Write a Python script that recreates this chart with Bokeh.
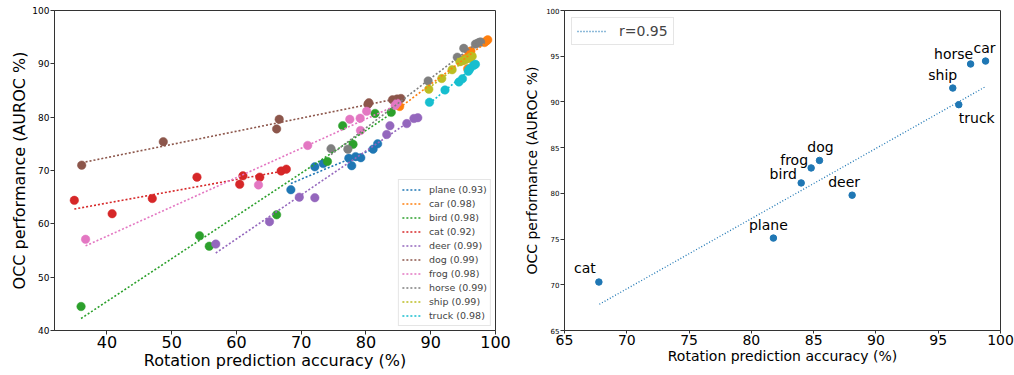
import numpy as np
from bokeh.plotting import figure
from bokeh.layouts import row
from bokeh.models import Range1d, FixedTicker, Legend, LegendItem, ColumnDataSource
from bokeh.embed import file_html
from bokeh.resources import INLINE

FONT = "DejaVu Sans"

# ---------------- data: left panel (per-class models) ----------------
classes = ["plane", "car", "bird", "cat", "deer", "dog", "frog", "horse", "ship", "truck"]
corr_labels = ["0.93", "0.98", "0.98", "0.92", "0.99", "0.99", "0.98", "0.99", "0.99", "0.98"]
colors = ["#1f77b4", "#ff7f0e", "#2ca02c", "#d62728", "#9467bd",
          "#8c564b", "#e377c2", "#7f7f7f", "#bcbd22", "#17becf"]

plane_rot = [68.4, 72.1, 73.4, 77.35, 77.8, 78.4, 79.2, 81.1, 81.8]
plane_occ = [66.4, 70.7, 71.3, 72.3, 70.9, 72.6, 72.4, 74.0, 75.0]
car_rot = [85.2, 94.6, 95.3, 95.7, 95.9, 96.2, 98.3, 98.6, 98.8]
car_occ = [82.0, 90.5, 91.0, 89.1, 92.2, 92.4, 94.0, 94.3, 94.5]
bird_rot = [36.0, 54.3, 55.8, 66.2, 74.05, 76.4, 78.0, 81.4, 83.9]
bird_occ = [44.5, 57.75, 55.8, 61.7, 71.7, 78.4, 74.9, 80.7, 80.9]
cat_rot = [34.96, 40.8, 47.0, 53.9, 60.5, 61.0, 63.6, 66.9, 67.7]
cat_occ = [64.4, 61.9, 64.75, 68.75, 67.4, 69.0, 68.75, 69.9, 70.25]
deer_rot = [56.8, 65.1, 69.7, 72.1, 83.2, 83.7, 86.3, 87.4, 88.0]
deer_occ = [56.2, 60.4, 65.0, 64.9, 76.75, 78.4, 78.8, 79.75, 79.9]
dog_rot = [36.1, 48.7, 66.2, 66.6, 80.3, 80.45, 84.1, 84.8, 85.4]
dog_occ = [71.0, 75.4, 77.8, 79.6, 82.4, 82.7, 83.25, 83.4, 83.5]
frog_rot = [36.7, 63.4, 71.0, 77.5, 79.1, 79.15, 80.1, 84.5, 84.8]
frog_occ = [57.1, 67.3, 74.7, 79.6, 79.8, 77.5, 81.1, 82.2, 82.6]
horse_rot = [74.6, 77.2, 89.6, 94.1, 95.1, 96.9, 97.3, 97.5, 97.7]
horse_occ = [74.1, 74.0, 86.8, 91.25, 92.9, 93.7, 93.9, 94.0, 94.1]
ship_rot = [89.7, 91.7, 93.3, 94.5, 95.0, 95.4, 96.0, 96.15, 96.4]
ship_occ = [85.25, 87.25, 88.9, 90.4, 90.6, 90.8, 91.0, 91.25, 91.4]
truck_rot = [89.8, 92.2, 94.35, 94.9, 95.8, 95.9, 96.05, 96.6, 96.9]
truck_occ = [82.8, 85.1, 86.6, 87.2, 88.6, 88.9, 89.1, 89.7, 89.9]

left_rot = [plane_rot, car_rot, bird_rot, cat_rot, deer_rot,
            dog_rot, frog_rot, horse_rot, ship_rot, truck_rot]
left_occ = [plane_occ, car_occ, bird_occ, cat_occ, deer_occ,
            dog_occ, frog_occ, horse_occ, ship_occ, truck_occ]

left_xticks = [40, 50, 60, 70, 80, 90, 100]
left_yticks = [40, 50, 60, 70, 80, 90, 100]

# ---------------- data: right panel (best model per class) ----------------
rp_classes = ["plane", "car", "bird", "cat", "deer", "dog", "frog", "horse", "ship", "truck"]
rp_rot = [81.77, 98.8, 84.0, 67.76, 88.09, 85.47, 84.8, 97.6, 96.17, 96.65]
rp_occ = [75.11, 94.47, 81.14, 70.3, 79.8, 83.6, 82.78, 94.15, 91.52, 89.7]
trend_rot = [67.8, 98.8]
trend_occ = [67.87, 91.67]
trend_label = "r=0.95"
right_ticks = [65, 70, 75, 80, 85, 90, 95, 100]

# label placement (screen px, relative to the point)
rp_dx = [-5, -1, -18, -14, -8, 1, -17, -17, -10, 18]
rp_dy = [-13, -13, -9, -14, -13, -13, -8, -10, -13, 13]


def style(p, xt, yt, xl, yl):
    p.xgrid.visible = False
    p.ygrid.visible = False
    p.outline_line_color = "#333333"
    p.outline_line_alpha = 1.0
    p.background_fill_color = "white"
    p.border_fill_color = "white"
    for ax, ts, ls in ((p.xaxis[0], xt, xl), (p.yaxis[0], yt, yl)):
        ax.axis_line_color = "#333333"
        ax.major_tick_line_color = "#333333"
        ax.minor_tick_line_color = None
        ax.major_tick_out = 4
        ax.major_tick_in = 0
        ax.major_label_text_font = FONT
        ax.major_label_text_font_size = ts
        ax.major_label_text_color = "black"
        ax.axis_label_text_font = FONT
        ax.axis_label_text_font_size = ls
        ax.axis_label_text_font_style = "normal"
        ax.axis_label_text_color = "black"
        ax.major_label_standoff = 1
        ax.axis_label_standoff = 0


# ---------------- left figure ----------------
p1 = figure(width=520, height=375, output_backend="svg", toolbar_location=None,
            x_range=Range1d(31.9, 100), y_range=Range1d(40, 100),
            min_border_left=54, min_border_right=25, min_border_top=10, min_border_bottom=45)
p1.xaxis.axis_label = "Rotation prediction accuracy (%)"
p1.yaxis.axis_label = "OCC performance (AUROC %)"
p1.xaxis.ticker = FixedTicker(ticks=left_xticks)
p1.yaxis.ticker = FixedTicker(ticks=left_yticks)
style(p1, "16px", "9px", "16px", "16px")

for xs, ys, c in zip(left_rot, left_occ, colors):
    p1.scatter(x=xs, y=ys, size=8.5, fill_color=c, line_color=c, line_width=0.5)

items = []
for name, r, xs, ys, c in zip(classes, corr_labels, left_rot, left_occ, colors):
    k, b = np.polyfit(np.array(xs), np.array(ys), 1)
    lx = np.array([min(xs), max(xs)])
    lr = p1.line(x=lx, y=k * lx + b, line_color=c, line_width=1.6, line_dash="2 2")
    items.append(LegendItem(label=f"{name} ({r})", renderers=[lr]))

leg1 = Legend(items=items, location="bottom_right")
leg1.margin = 4
leg1.padding = 3
leg1.spacing = 1
leg1.label_height = 13
leg1.glyph_height = 13
leg1.glyph_width = 19
leg1.label_standoff = 8
leg1.label_text_font = FONT
leg1.label_text_font_size = "9.5px"
leg1.border_line_color = "#cccccc"
leg1.border_line_width = 1
leg1.background_fill_alpha = 0.8
p1.add_layout(leg1)

# ---------------- right figure ----------------
p2 = figure(width=494, height=375, output_backend="svg", toolbar_location=None,
            x_range=Range1d(65, 100), y_range=Range1d(65, 100),
            min_border_left=44, min_border_right=14, min_border_top=10, min_border_bottom=38)
p2.xaxis.axis_label = "Rotation prediction accuracy (%)"
p2.yaxis.axis_label = "OCC performance (AUROC %)"
p2.xaxis.ticker = FixedTicker(ticks=right_ticks)
p2.yaxis.ticker = FixedTicker(ticks=right_ticks)
style(p2, "14px", "7px", "14px", "14px")
p2.xaxis.major_tick_out = 3
p2.yaxis.axis_label_standoff = 3

src = ColumnDataSource(dict(x=rp_rot, y=rp_occ, t=rp_classes, dx=rp_dx, dy=rp_dy))
p2.scatter(x="x", y="y", source=src, size=6.5, fill_color="#1f77b4", line_color="#1f77b4")
tr = p2.line(x=trend_rot, y=trend_occ, line_color="#1f77b4", line_width=1.3, line_dash="1 2")
p2.text(x="x", y="y", text="t", source=src, x_offset="dx", y_offset="dy",
        text_align="center", text_baseline="middle", text_font_size="14px",
        text_font={"value": FONT}, text_color="black")

leg2 = Legend(items=[LegendItem(label=trend_label, renderers=[tr])], location="top_left")
leg2.margin = 7
leg2.padding = 5
leg2.spacing = 0
leg2.label_height = 16
leg2.glyph_height = 16
leg2.glyph_width = 30
leg2.label_standoff = 12
leg2.label_text_font = FONT
leg2.label_text_font_size = "14px"
leg2.border_line_color = "#cccccc"
leg2.border_line_width = 1
leg2.background_fill_alpha = 0.8
p2.add_layout(leg2)

layout = row(p1, p2)
open("out.html", "w").write(file_html(layout, INLINE))
